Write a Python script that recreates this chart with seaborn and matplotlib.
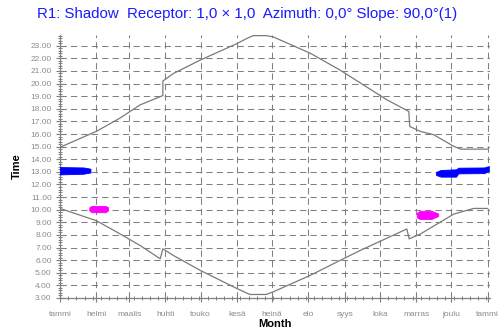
import numpy as np
import pandas as pd
import matplotlib
matplotlib.use("Agg")
import matplotlib.pyplot as plt
from matplotlib.ticker import FixedLocator, AutoMinorLocator, FormatStrFormatter
import seaborn as sns

# ---- data ----
month_labels = ["tammi", "helmi", "maalis", "huhti", "touko", "kesä", "heinä",
                "elo", "syys", "loka", "marras", "joulu", "tammi"]
month_starts = [0, 31, 59, 90, 120, 151, 181, 212, 243, 273, 304, 334, 365]

sunset_day = [0, 31, 51.3, 68.4, 87.8, 87.8, 96.8, 119.7, 151, 160, 165, 176, 182,
              213.7, 239, 279, 297.7, 298.5, 307.7, 318.8, 336, 342, 365]
sunset_hour = [14.95, 16.21, 17.27, 18.31, 19.05, 20.2, 20.8, 21.86, 23.17, 23.6, 23.8, 23.8, 23.7,
               22.4, 21.07, 18.71, 17.79, 16.6, 16.2, 15.95, 15.03, 14.8, 14.8]

sunrise_day = [0, 31, 51.3, 68.4, 85.5, 87.8, 96.8, 119.7, 151, 162, 176, 182,
               213.7, 239, 256, 296, 298, 307.7, 336, 353, 365]
sunrise_hour = [10.1, 9.13, 8.08, 7.16, 6.11, 6.9, 6.37, 5.19, 3.75, 3.28, 3.28, 3.49,
                4.8, 5.98, 6.76, 8.47, 7.69, 8.08, 9.65, 10.1, 10.1]

blue_jan_day = [0, 20, 26]
blue_jan_low = [12.8, 12.85, 12.95]
blue_jan_high = [13.38, 13.35, 13.25]

mag_feb_day = [25, 27, 39, 41]
mag_feb_low = [9.95, 9.8, 9.8, 9.95]
mag_feb_high = [10.2, 10.3, 10.3, 10.2]

mag_nov_day = [304.5, 307, 317, 322.8]
mag_nov_low = [9.4, 9.26, 9.26, 9.5]
mag_nov_high = [9.75, 9.91, 9.91, 9.7]

blue_dec_day = [321, 325, 338, 340, 362, 366]
blue_dec_low = [12.75, 12.62, 12.62, 12.88, 12.9, 13.06]
blue_dec_high = [13.0, 13.15, 13.2, 13.33, 13.35, 13.46]

hour_ticks = list(range(3, 24))

title = "R1: Shadow  Receptor: 1,0 \u00d7 1,0  Azimuth: 0,0\u00b0 Slope: 90,0\u00b0(1)"

# ---- style ----
sns.set_style("ticks")
plt.rcParams["font.family"] = ["Liberation Sans", "DejaVu Sans"]

GRAY = "#8c8c8c"
LINE = "#808080"

fig = plt.figure(figsize=(5.02, 3.34), dpi=100)
ax = fig.add_axes([60 / 502, 1 - 298 / 334, 430 / 502, (298 - 35) / 334])

# grid (dashed)
for h in hour_ticks[1:]:
    ax.axhline(h, color=LINE, lw=0.75, dashes=(6, 4), zorder=1)
for d in month_starts[1:]:
    ax.axvline(d, color=LINE, lw=0.75, dashes=(6, 4), zorder=1)

df_set = pd.DataFrame({"day": sunset_day, "hour": sunset_hour})
df_rise = pd.DataFrame({"day": sunrise_day, "hour": sunrise_hour})
sns.lineplot(data=df_set, x="day", y="hour", estimator=None, sort=False,
             color="#7a7a7a", lw=0.9, ax=ax, zorder=3)
sns.lineplot(data=df_rise, x="day", y="hour", estimator=None, sort=False,
             color="#7a7a7a", lw=0.9, ax=ax, zorder=3)

for d, lo, hi, c in [(blue_jan_day, blue_jan_low, blue_jan_high, "#0000ff"),
                     (mag_feb_day, mag_feb_low, mag_feb_high, "#ff00ff"),
                     (mag_nov_day, mag_nov_low, mag_nov_high, "#ff00ff"),
                     (blue_dec_day, blue_dec_low, blue_dec_high, "#0000ff")]:
    ax.fill_between(d, lo, hi, color=c, lw=0.6, edgecolor=c, zorder=4)

ax.set_xlim(0, 367)
ax.set_ylim(3, 23.85)

ax.xaxis.set_major_locator(FixedLocator(month_starts))
ax.set_xticklabels(month_labels)
ax.xaxis.set_minor_locator(FixedLocator(list(range(0, 366, 7))))
ax.yaxis.set_major_locator(FixedLocator(hour_ticks))
ax.yaxis.set_major_formatter(FormatStrFormatter("%.2f"))
ax.yaxis.set_minor_locator(AutoMinorLocator(5))

ax.tick_params(axis="both", which="major", direction="inout", length=6, width=0.8,
               color=LINE, labelcolor=GRAY, labelsize=6)
ax.tick_params(axis="both", which="minor", direction="inout", length=3.5, width=0.7,
               color=LINE)
ax.tick_params(axis="x", which="major", pad=6)
ax.tick_params(axis="y", which="major", pad=3)

for s in ["top", "right"]:
    ax.spines[s].set_visible(False)
for s in ["left", "bottom"]:
    ax.spines[s].set_color(LINE)
    ax.spines[s].set_linewidth(0.9)

ax.set_xlabel("Month", fontsize=8, fontweight="bold", color="black", labelpad=1)
ax.set_ylabel("Time", fontsize=8, fontweight="bold", color="black", labelpad=6)

fig.text(0.493, 1 - 14 / 334, title, ha="center", va="center", fontsize=10.8,
         color="#1a1aff")

fig.savefig("out.png", dpi=100)
